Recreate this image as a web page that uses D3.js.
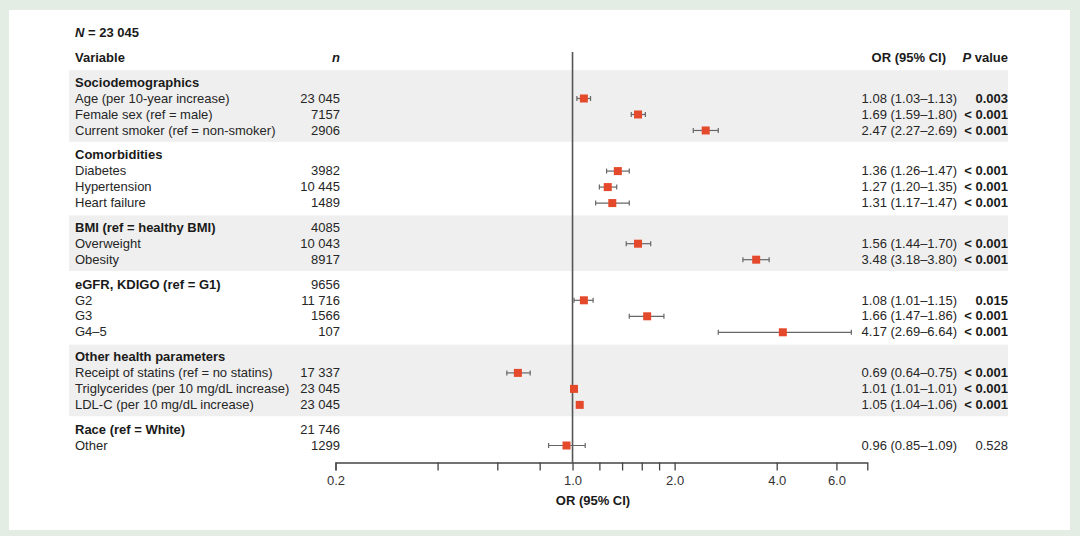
<!DOCTYPE html>
<html>
<head>
<meta charset="utf-8">
<script src="https://cdn.jsdelivr.net/npm/d3@7.9.0/dist/d3.min.js"></script>
<style>
  html, body { margin: 0; padding: 0; background: #e4ede3; }
  svg { display: block; font-family: "Liberation Sans", Arial, sans-serif; }
</style>
</head>
<body>
<div id="chart"></div>
<script>
// Groups (header rows) and their n
const groupNames = ["Sociodemographics", "Comorbidities", "BMI (ref = healthy BMI)",
  "eGFR, KDIGO (ref = G1)", "Other health parameters", "Race (ref = White)"];
const groupN = ["", "", "4085", "9656", "", "21 746"];

// Rows: which group they belong to
const rowGroup = [0, 0, 0, 1, 1, 1, 2, 2, 3, 3, 3, 4, 4, 4, 5];
const rowLabels = ["Age (per 10-year increase)", "Female sex (ref = male)", "Current smoker (ref = non-smoker)",
  "Diabetes", "Hypertension", "Heart failure",
  "Overweight", "Obesity",
  "G2", "G3", "G4\u20135",
  "Receipt of statins (ref = no statins)", "Triglycerides (per 10 mg/dL increase)", "LDL-C (per 10 mg/dL increase)",
  "Other"];
const rowN = ["23 045", "7157", "2906", "3982", "10 445", "1489", "10 043", "8917",
  "11 716", "1566", "107", "17 337", "23 045", "23 045", "1299"];

// Plotted estimates, as read from the markers
const orValues = [1.08, 1.56, 2.47, 1.36, 1.27, 1.31, 1.56, 3.48, 1.08, 1.66, 4.17, 0.69, 1.01, 1.05, 0.96];
const ciLow    = [1.03, 1.49, 2.27, 1.26, 1.20, 1.17, 1.44, 3.18, 1.01, 1.47, 2.69, 0.64, 1.01, 1.04, 0.85];
const ciHigh   = [1.13, 1.64, 2.69, 1.47, 1.35, 1.47, 1.70, 3.80, 1.15, 1.86, 6.64, 0.75, 1.01, 1.06, 1.09];

// Printed columns
const orText = ["1.08 (1.03\u20131.13)", "1.69 (1.59\u20131.80)", "2.47 (2.27\u20132.69)",
  "1.36 (1.26\u20131.47)", "1.27 (1.20\u20131.35)", "1.31 (1.17\u20131.47)",
  "1.56 (1.44\u20131.70)", "3.48 (3.18\u20133.80)",
  "1.08 (1.01\u20131.15)", "1.66 (1.47\u20131.86)", "4.17 (2.69\u20136.64)",
  "0.69 (0.64\u20130.75)", "1.01 (1.01\u20131.01)", "1.05 (1.04\u20131.06)",
  "0.96 (0.85\u20131.09)"];
const pText = ["0.003", "< 0.001", "< 0.001", "< 0.001", "< 0.001", "< 0.001", "< 0.001", "< 0.001",
  "0.015", "< 0.001", "< 0.001", "< 0.001", "< 0.001", "< 0.001", "0.528"];
const pBold = [true, true, true, true, true, true, true, true, true, true, true, true, true, true, false];

// Axis ticks
const tickVals = [0.2, 0.4, 0.6, 0.8, 1.0, 1.2, 1.4, 1.6, 1.8, 2.0, 4.0, 6.0];
const tickLabeled = [0.2, 1.0, 2.0, 4.0, 6.0];
const xDomain = [0.2, 7.4];

const width = 1080;
const height = 536;
const fontSize = "13px";
const textColor = "#262626";
const boldColor = "#1a1a1a";

const svg = d3.select("#chart").append("svg")
  .attr("width", width)
  .attr("height", height);

// white panel
svg.append("rect")
  .attr("x", 9).attr("y", 10)
  .attr("width", 1061).attr("height", 520)
  .attr("fill", "#fff");

// build the list of lines (group header + rows) with a position in "units"
const gapUnits = 0.54;
const lines = [];
let pos = 0;
groupNames.forEach((g, gi) => {
  if (gi > 0) pos += 1 + gapUnits;
  const start = pos;
  lines.push({ type: "group", gi, pos });
  rowGroup.forEach((rg, ri) => {
    if (rg === gi) {
      pos += 1;
      lines.push({ type: "row", gi, ri, pos });
    }
  });
  lines.filter(l => l.gi === gi).forEach(l => { l.start = start; l.end = pos; });
});

const y = d3.scaleLinear().domain([0, pos]).range([82, 445]);
const x = d3.scaleLog().domain(xDomain).range([335.5, 867.3]);

const halfGap = (y(1 + gapUnits) - y(0)) / 2;

// shaded bands for alternating groups
groupNames.forEach((g, gi) => {
  if (gi % 2 !== 0) return;
  const ls = lines.filter(l => l.gi === gi);
  const top = y(ls[0].start) - halfGap + 0.5;
  const bot = y(ls[0].end) + halfGap - 0.5;
  svg.append("rect")
    .attr("x", 69).attr("y", top)
    .attr("width", 1008 - 69).attr("height", bot - top)
    .attr("fill", "#efefef");
});

// top labels
const colLeft = 75, colN = 340, colOR = 957, colP = 1008;

const nHead = svg.append("text")
  .attr("x", colLeft).attr("y", 36.5)
  .attr("font-size", fontSize).attr("font-weight", "bold").attr("fill", boldColor);
nHead.append("tspan").attr("font-style", "italic").text("N");
nHead.append("tspan").text(" = 23 045");

svg.append("text")
  .attr("x", colLeft).attr("y", 61.5)
  .attr("font-size", fontSize).attr("font-weight", "bold").attr("fill", boldColor)
  .text("Variable");
svg.append("text")
  .attr("x", colN).attr("y", 61.5).attr("text-anchor", "end")
  .attr("font-size", fontSize).attr("font-weight", "bold").attr("font-style", "italic").attr("fill", boldColor)
  .text("n");
svg.append("text")
  .attr("x", 946).attr("y", 61.5).attr("text-anchor", "end")
  .attr("font-size", fontSize).attr("font-weight", "bold").attr("fill", boldColor)
  .text("OR (95% CI)");
const pHead = svg.append("text")
  .attr("x", colP).attr("y", 61.5).attr("text-anchor", "end")
  .attr("font-size", fontSize).attr("font-weight", "bold").attr("fill", boldColor);
pHead.append("tspan").attr("font-style", "italic").text("P");
pHead.append("tspan").text(" value");

// table text
const baseOff = 4.7;
lines.forEach(l => {
  const yy = y(l.pos) + baseOff;
  if (l.type === "group") {
    svg.append("text")
      .attr("x", colLeft).attr("y", yy)
      .attr("font-size", fontSize).attr("font-weight", "bold").attr("fill", boldColor)
      .text(groupNames[l.gi]);
    if (groupN[l.gi]) {
      svg.append("text")
        .attr("x", colN).attr("y", yy).attr("text-anchor", "end")
        .attr("font-size", fontSize).attr("fill", textColor)
        .text(groupN[l.gi]);
    }
  } else {
    const i = l.ri;
    svg.append("text")
      .attr("x", colLeft).attr("y", yy)
      .attr("font-size", fontSize).attr("fill", textColor)
      .text(rowLabels[i]);
    svg.append("text")
      .attr("x", colN).attr("y", yy).attr("text-anchor", "end")
      .attr("font-size", fontSize).attr("fill", textColor)
      .text(rowN[i]);
    svg.append("text")
      .attr("x", colOR).attr("y", yy).attr("text-anchor", "end")
      .attr("font-size", fontSize).attr("fill", textColor)
      .text(orText[i]);
    svg.append("text")
      .attr("x", colP).attr("y", yy).attr("text-anchor", "end")
      .attr("font-size", fontSize)
      .attr("fill", pBold[i] ? boldColor : textColor)
      .attr("font-weight", pBold[i] ? "bold" : "normal")
      .text(pText[i]);
  }
});

// axis
const axisY = 462.5;
const xAxis = d3.axisBottom(x)
  .tickValues(tickVals)
  .tickSize(8)
  .tickSizeOuter(8)
  .tickPadding(5)
  .tickFormat(d => tickLabeled.includes(d) ? d.toFixed(1) : "");

const ax = svg.append("g")
  .attr("transform", `translate(0, ${axisY})`)
  .call(xAxis);
ax.select(".domain").attr("stroke", "#444").attr("stroke-width", 1.3);
ax.selectAll(".tick line").attr("stroke", "#444").attr("stroke-width", 1.3);
ax.selectAll(".tick text")
  .attr("font-size", fontSize).attr("fill", "#333")
  .attr("font-family", "Liberation Sans, Arial, sans-serif");

svg.append("text")
  .attr("x", 593).attr("y", axisY + 42)
  .attr("text-anchor", "middle")
  .attr("font-size", fontSize).attr("font-weight", "bold").attr("fill", boldColor)
  .text("OR (95% CI)");

// reference line at OR = 1
svg.append("line")
  .attr("x1", x(1)).attr("x2", x(1))
  .attr("y1", 52).attr("y2", axisY)
  .attr("stroke", "#555").attr("stroke-width", 1.6);

// whiskers and markers
const rows = lines.filter(l => l.type === "row");
const cap = 2.5;
const g = svg.append("g");
rows.forEach(l => {
  const i = l.ri;
  const yy = y(l.pos) + 0.5;
  g.append("line")
    .attr("x1", x(ciLow[i])).attr("x2", x(ciHigh[i]))
    .attr("y1", yy).attr("y2", yy)
    .attr("stroke", "#666").attr("stroke-width", 1.2);
  [ciLow[i], ciHigh[i]].forEach(v => {
    g.append("line")
      .attr("x1", x(v)).attr("x2", x(v))
      .attr("y1", yy - cap).attr("y2", yy + cap)
      .attr("stroke", "#666").attr("stroke-width", 1.2);
  });
  g.append("rect")
    .attr("x", x(orValues[i]) - 4).attr("y", yy - 4)
    .attr("width", 8).attr("height", 8)
    .attr("fill", "#e5492b");
});
</script>
</body>
</html>
